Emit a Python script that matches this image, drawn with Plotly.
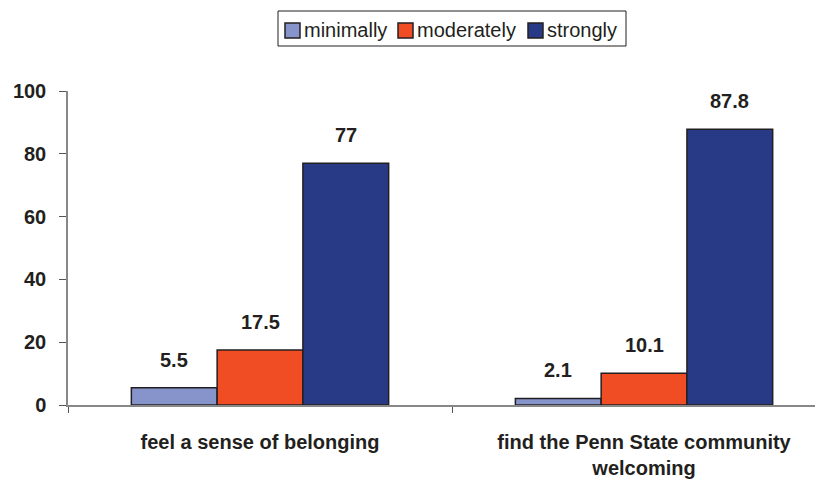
import plotly.graph_objects as go

categories = ["feel a sense of belonging", "find the Penn State community<br>welcoming"]
series_names = ["minimally", "moderately", "strongly"]
minimally = [5.5, 2.1]
moderately = [17.5, 10.1]
strongly = [77, 87.8]
colors = ["#8794CB", "#F04D25", "#283A86"]
y_ticks = [0, 20, 40, 60, 80, 100]

all_values = [minimally, moderately, strongly]
bargap = 0.33
bw = (1 - bargap) / len(series_names)

# page has an 8px body margin; figure is sized to fill the rest of the window
OFF = 8
W, H = 823 - OFF, 483 - OFF
ML, MR, MT, MB = 68 - OFF, 0, 91 - OFF, 78
PW, PH = W - ML - MR, H - MT - MB

def px(x):
    return (x - OFF - ML) / PW

def py(y):
    return (H - MB - (y - OFF)) / PH

fig = go.Figure()
for name, vals, col in zip(series_names, all_values, colors):
    fig.add_trace(go.Bar(
        name=name, x=categories, y=vals,
        marker=dict(color=col, line=dict(color="#231F20", width=1.5)),
    ))

FONT = "Liberation Sans, Arial, sans-serif"
bold = dict(family=FONT, size=20, color="#231F20")
for j, vals in enumerate(all_values):
    for i, v in enumerate(vals):
        fig.add_annotation(
            x=i + (j - 1) * bw, y=v, xref="x", yref="y",
            text=f"<b>{v}</b>", showarrow=False, yshift=28,
            font=bold,
        )

# custom legend (box, swatches, labels), in page pixels
legend_box = (278, 11, 626, 46)
swatch_x = [285, 398, 528]
swatch_size = 15
swatch_top = 23
shapes = [dict(type="rect", xref="paper", yref="paper",
               x0=px(legend_box[0]), x1=px(legend_box[2]),
               y0=py(legend_box[3]), y1=py(legend_box[1]),
               line=dict(color="#231F20", width=1), fillcolor="white", layer="above")]
for sx, col, name in zip(swatch_x, colors, series_names):
    shapes.append(dict(type="rect", xref="paper", yref="paper",
                       x0=px(sx), x1=px(sx + swatch_size),
                       y0=py(swatch_top + swatch_size), y1=py(swatch_top),
                       line=dict(color="#231F20", width=1.5), fillcolor=col, layer="above"))
    fig.add_annotation(x=px(sx + swatch_size + 2), y=py(swatch_top + swatch_size / 2),
                       xref="paper", yref="paper", xanchor="left", yanchor="middle",
                       text=name, showarrow=False,
                       font=dict(family=FONT, size=20, color="#231F20"))

fig.update_layout(
    width=W, height=H,
    margin=dict(l=ML, r=MR, t=MT, b=MB, autoexpand=False),
    paper_bgcolor="white", plot_bgcolor="white",
    barmode="group", bargap=bargap, bargroupgap=0,
    showlegend=False,
    shapes=shapes,
    xaxis=dict(
        type="category", range=[-0.5, 1.466],
        tickson="boundaries", ticks="outside", ticklen=6, tickcolor="#555555",
        showline=True, linecolor="#888888", linewidth=1.5,
        showgrid=False, ticklabelstandoff=18, automargin=False,
        tickfont=dict(family=FONT, size=20, color="#231F20", weight="bold"),
    ),
    yaxis=dict(
        range=[0, 100], tickvals=y_ticks,
        ticks="outside", ticklen=7, tickcolor="#555555",
        showline=True, linecolor="#888888", linewidth=1.5,
        showgrid=False, zeroline=False, ticklabelstandoff=9, automargin=False,
        tickfont=dict(family=FONT, size=20, color="#231F20", weight="bold"),
    ),
)

fig.write_html("out.html")
